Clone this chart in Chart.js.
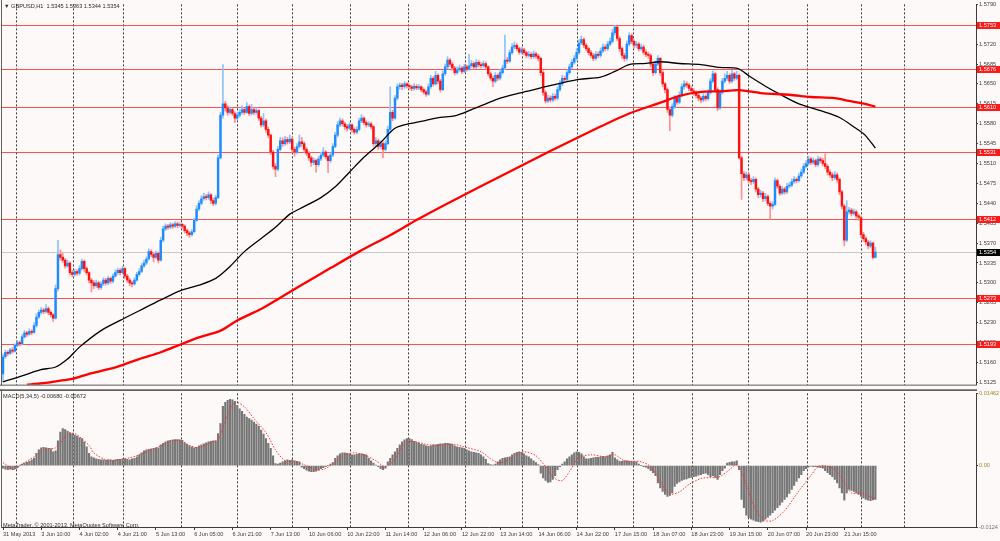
<!DOCTYPE html>
<html>
<head>
<meta charset="utf-8">
<title>GBPUSD,H1</title>
<script src="https://cdn.jsdelivr.net/npm/chart.js"></script>
<style>
  html, body { margin: 0; padding: 0; background: #fcf9f8; }
  #wrap { position: relative; width: 1000px; height: 541px; overflow: hidden; background: #fcf9f8; }
  canvas { position: absolute; left: 0; }
  #priceChart { top: 0; }
  #macdChart { top: 389px; }
  .note { position: absolute; font-family: 'Liberation Sans', Arial, sans-serif; font-size: 5.6px; line-height: 6px; color: #2a2a2a; white-space: nowrap; }
</style>
</head>
<body>
<div id="wrap">
  <canvas id="priceChart" width="1000" height="389"></canvas>
  <canvas id="macdChart" width="1000" height="152"></canvas>
  <div class="note" style="left:4px;top:3px">&#9660; GBPUSD,H1&nbsp; 1.5345 1.5363 1.5344 1.5354</div>
  <div class="note" style="left:3px;top:393px">MACD(5,34,5) -0.00680 -0.00672</div>
  <div class="note" style="left:3px;top:522px">MetaTrader, © 2001-2013, MetaQuotes Software Corp.</div>
</div>
<script>
// time axis: one label every 16 hourly bars
const timeLabels = ['31 May 2013', '3 Jun 10:00', '4 Jun 02:00', '4 Jun 21:00', '5 Jun 13:00', '6 Jun 05:00',
  '6 Jun 21:00', '7 Jun 13:00', '10 Jun 06:00', '10 Jun 22:00', '11 Jun 14:00', '12 Jun 06:00', '12 Jun 22:00',
  '13 Jun 14:00', '14 Jun 06:00', '14 Jun 22:00', '17 Jun 15:00', '18 Jun 07:00', '18 Jun 23:00', '19 Jun 15:00',
  '20 Jun 07:00', '20 Jun 23:00', '21 Jun 15:00'];
const labelStep = 16;
// period separators (bar index)
const daySeparators = [5.5, 29.3, 50.6, 74.5, 98.3, 121.3, 145.2, 169.5, 193.3, 217.2, 240.2, 264, 288.3, 312.1, 336.4, 359, 377];

const priceTicks = [1.5790, 1.5755, 1.5720, 1.5685, 1.5650, 1.5615, 1.5580, 1.5545, 1.5510, 1.5475, 1.5440,
  1.5405, 1.5370, 1.5335, 1.5300, 1.5265, 1.5230, 1.5195, 1.5160, 1.5125];
const levels = [1.5753, 1.5676, 1.5610, 1.5531, 1.5412, 1.5273, 1.5193];
const lastPrice = 1.5354;

// candles, in pips above 1.5000
const firstOpen = 140;
const closes = [
  170,178,176,182,180,190,195,193,205,212, 210,215,213,225,240,248,252,250,255,248,
  244,238,290,350,345,340,330,335,318,315, 320,317,325,338,325,318,305,300,295,300,
  292,298,305,300,308,303,312,318,322,318, 325,312,305,300,298,305,315,320,330,335,
  342,355,350,345,352,340,375,395,400,398, 402,400,404,401,403,400,392,388,385,390,
  410,430,440,448,452,450,455,445,440,450, 520,595,615,608,600,605,598,590,595,600,
  605,600,610,598,605,600,603,590,578,585, 570,560,530,505,500,535,550,545,552,548,
  553,535,530,540,548,545,535,528,520,512, 515,508,518,525,530,522,515,525,540,560,
  578,585,580,575,572,578,570,565,570,585, 590,582,578,580,575,545,550,540,545,535,
  545,570,600,590,625,645,648,645,650,647, 645,642,646,643,645,640,636,632,645,660,
  650,665,655,640,668,680,692,685,678,670, 675,678,672,680,676,682,686,680,688,684,
  682,686,680,668,660,655,665,660,670,678, 692,690,705,715,718,712,706,710,705,700,
  702,698,703,699,695,670,635,620,625,622, 628,625,640,650,660,658,670,680,688,695,
  705,722,728,718,712,705,700,695,702,700, 708,715,712,720,725,740,750,730,712,700,
  695,720,735,725,718,720,712,715,706,702, 700,685,670,685,695,670,650,640,605,595,
  610,625,618,630,645,650,648,642,638,635, 630,625,622,628,624,635,655,668,640,608,
  635,655,660,665,655,668,660,665,520,492, 485,490,480,478,482,465,455,458,448,452,
  440,435,438,480,470,458,465,460,470,472, 478,482,480,488,495,505,510,518,512,515,
  508,518,515,510,505,495,490,485,490,482, 460,435,375,425,428,422,425,418,415,385,
  378,372,365,370,345,354];
const highs = [
  175,182,181,185,186,193,199,198,209,216, 215,219,218,230,246,252,257,255,262,258,
  251,246,296,375,358,352,343,340,337,322, 324,323,330,342,340,328,320,308,304,305,
  303,302,309,308,312,310,316,323,326,325, 329,327,315,308,303,309,319,325,334,340,
  346,360,358,353,356,354,380,400,404,403, 406,405,408,407,406,405,402,395,391,394,
  414,436,445,453,458,456,460,457,449,454, 525,600,684,620,612,610,608,601,600,605,
  612,608,617,613,614,608,608,605,593,598, 588,574,562,533,510,540,556,555,558,556,
  560,556,539,545,560,556,548,538,531,523, 520,518,522,530,538,533,525,529,545,565,
  584,590,588,583,579,582,580,573,575,590, 596,592,585,584,583,577,556,553,550,548,
  550,576,645,604,630,650,652,651,654,652, 650,648,650,649,649,647,643,639,650,665,
  663,672,668,658,673,685,698,695,688,681, 680,683,681,685,683,702,691,689,693,691,
  688,690,689,682,671,664,670,668,675,683, 736,697,710,721,724,721,715,715,713,708,
  707,705,708,706,702,697,673,638,630,629, 633,632,645,656,665,664,675,685,693,700,
  712,728,734,731,721,715,709,704,707,706, 713,720,719,725,731,746,753,752,733,715,
  704,726,740,738,728,725,723,720,718,710, 706,703,688,690,700,697,673,653,643,610,
  615,630,628,636,650,656,654,651,646,642, 638,633,628,633,631,640,660,673,670,643,
  640,660,668,672,668,674,670,672,668,523, 496,495,493,484,487,485,468,463,461,457,
  455,443,443,485,483,473,470,468,475,477, 483,487,485,493,500,510,515,523,521,520,
  518,523,521,519,527,508,499,494,496,493, 485,463,438,445,433,431,430,428,421,418,
  389,381,375,374,372,363];
const lows = [
  126,167,172,174,177,178,188,189,191,203, 206,208,209,211,222,237,245,246,247,244,
  240,232,236,286,340,336,326,327,314,311, 312,313,314,322,320,314,300,284,290,292,
  288,289,295,296,297,299,300,310,315,314, 316,308,301,295,293,296,303,312,318,327,
  332,340,346,337,342,335,338,372,392,394, 395,396,397,397,398,396,388,383,380,382,
  388,408,427,437,445,446,447,440,436,437, 448,518,590,602,595,597,594,582,587,592,
  597,596,598,594,595,596,597,586,574,575, 565,555,526,500,487,497,532,540,542,544,
  545,530,523,527,537,540,530,524,515,505, 508,495,505,515,522,518,494,512,522,538,
  557,575,576,570,567,569,565,561,562,568, 582,578,574,575,571,540,541,535,536,520,
  532,543,566,585,588,622,641,640,642,643, 641,638,639,640,640,636,632,628,630,642,
  646,648,650,636,638,665,677,681,674,666, 667,672,668,670,672,674,679,676,677,680,
  678,679,676,664,656,645,652,656,657,667, 675,686,688,702,711,708,702,703,701,696,
  697,694,695,695,690,665,630,616,617,618, 619,621,622,637,647,653,655,667,677,685,
  692,702,719,714,708,701,696,691,692,696, 697,705,708,709,717,722,736,726,707,695,
  690,692,717,721,713,714,708,709,702,698, 695,680,665,667,682,665,645,634,600,568,
  592,607,614,615,627,641,644,638,634,630, 626,620,617,619,620,621,632,652,636,603,
  605,632,652,656,651,652,656,657,518,447, 480,481,476,473,474,460,450,451,443,444,
  436,412,430,436,466,454,455,456,457,467, 469,475,476,477,485,492,502,507,508,509,
  504,505,511,506,501,490,486,480,482,477, 455,430,365,372,421,418,419,414,410,380,
  373,367,360,362,342,344];

// moving averages (bar index, pips above 1.5000)
const maBlackIdx = [0,7,15.5,22,27,32,41,49,57,66, 74,82,89,95,101,108,114,120,124,133,
  139,145,151,158,164,170,177,183,189,195, 202,208,216,225,233,241,250,256,262,269,
  275,283,292,300,307.5,312.5,319,325,333,342, 350,356.5,360.7,365];
const maBlackVal = [126,135,147,152,166,187,216,234,251,270, 286,296,308,329,355,378,398,421,430,450,
  469,495,521,547,572,580,586,591,594,603, 615,625,634,643,651,658,662,672,684,686,
  689,686,684,679,677,663,646,632,615,603, 591,573,560,537];
const maRedIdx = [10,15.5,19.7,24,29,36,45,51,57,66, 74.5,82,91,98,107.5,116,124,137,149,162,
  173.6,187,208,229,250,262,275,283,292,300, 308,317,329,338,348,354,360.7,365];
const maRedVal = [121,123,125,128,131,140,149,157,166,178, 192,204,216,234,253,274,294,326,355,384,
  412,442,487,532,575,598,617,629,636,637, 639,634,631,627,625,620,615,610];

// MACD(5,34,5) main values per bar, in units of 0.0001
const macd = [
  -5,-7,-8,-7,-8,-6,-4,1,3,5, 7,9,12,15,25,32,36,37,36,35,
  34,28,30,50,68,75,73,70,67,65, 62,60,57,55,48,38,25,18,16,14,
  13,12,12,11,12,12,11,12,13,13, 14,14,13,12,14,15,18,22,26,30,
  32,33,34,35,36,36,42,45,48,50, 51,52,53,53,52,51,46,43,40,38,
  36,37,40,42,44,46,48,49,50,50, 65,85,120,128,132,134,133,130,122,115,
  110,104,98,95,92,88,84,80,72,64, 55,45,35,20,4,3,5,8,10,12,
  11,12,10,9,8,-3,-6,-9,-11,-12, -12,-11,-9,-6,-4,-2,0,3,6,15,
  20,24,26,26,25,24,22,22,23,24, 24,23,22,15,10,5,1,-2,-6,-8,
  -5,8,15,22,28,35,42,48,52,55, 55,53,49,47,45,43,42,40,39,40,
  42,42,43,44,44,45,45,44,43,40, 38,37,36,35,32,30,28,27,26,25,
  22,18,13,4,2,1,3,8,12,15, 16,17,18,22,25,27,28,27,24,20,
  18,14,10,6,2,-15,-25,-30,-34,-33, -28,-20,-8,-2,3,8,14,18,22,26,
  28,27,24,18,14,14,15,16,17,17, 18,19,18,20,22,27,16,12,9,9,
  10,10,9,9,8,8,3,0,-2,-3, -6,-10,-14,-20,-35,-45,-52,-58,-62,-60,
  -55,-42,-36,-33,-30,-28,-27,-25,-24,-22, -21,-19,-18,-16,-15,-18,-22,-20,-24,-28,
  -18,-10,-5,5,7,8,8,10,-8,-68, -85,-100,-105,-108,-110,-112,-113,-114,-112,-108,
  -104,-100,-95,-90,-85,-80,-74,-68,-63,-56, -48,-40,-32,-25,-18,-10,-6,-3,-1,-2,
  -2,-3,-4,-5,-10,-14,-18,-22,-28,-35, -45,-55,-70,-55,-48,-50,-52,-55,-58,-62,
  -65,-68,-70,-71,-69,-68];
// signal line (bar index, units of 0.0001)
const signalIdx = [0,5,7,13,18,22,27,30,36,38, 43,49,53,57,62,66,70,74,78,82,
  87,90,93,97,101,105,110,114,118,122, 126,131,135,139,143,147,151,156,160,164,
  168,172,177,181,185,189,193,200,204,207, 210,214,218,223,227,231,234,237,241,246,
  252,256,260,267,271,275,279,283,287,292, 296,300,304,307,311,313,316,319,322,327,
  333,338,341,344,348,352,355,359,362,365];
const signalVal = [6,-8,0,18,34,36,63,65,41,26, 12,12,16,22,32,40,49,51,41,36,
  47,53,91,128,119,95,67,32,10,8, 2,-8,-6,8,22,26,22,10,-2,14,
  45,49,43,41,43,43,38,28,14,6, 8,20,28,20,-2,-26,-30,-12,16,22,
  18,22,10,8,-2,-32,-57,-53,-38,-26, -24,-22,-8,2,-38,-67,-97,-111,-111,-91,
  -51,-20,-2,0,-8,-34,-55,-55,-61,-67];
const macdTicks = [0.01462, 0, -0.0124];
const macdTickText = ['0.01462', '0.00', '-0.0124'];

const toPrice = v => 1.5 + v / 10000;
const opens = closes.map((c, i) => (i === 0 ? firstOpen : closes[i - 1]));
const up = closes.map((c, i) => c >= opens[i]);
const font = { family: 'Liberation Sans', size: 5.6 };
const axisInk = '#3c3c3c';
const xMin = -0.42, xMax = 407.1;

const separatorAxis = {
  type: 'linear', min: xMin, max: xMax, offset: false, position: 'bottom',
  afterBuildTicks: s => { s.ticks = daySeparators.map(v => ({ value: v })); },
  afterFit: s => { s.height = 0; },
  ticks: { display: false, autoSkip: false },
  grid: { color: '#3a3a3a', lineWidth: 1, drawTicks: false, offset: false },
  border: { display: false, dash: [2, 2] }
};

const levelPlugin = {
  id: 'levels',
  beforeDatasetsDraw(chart) {
    const { ctx, chartArea: a, scales: { y } } = chart;
    ctx.save();
    ctx.lineWidth = 1;
    ctx.strokeStyle = '#c8c8c8';
    let py = Math.round(y.getPixelForValue(lastPrice)) + 0.5;
    ctx.beginPath(); ctx.moveTo(a.left, py); ctx.lineTo(a.right, py); ctx.stroke();
    ctx.strokeStyle = 'rgba(255,50,50,0.85)';
    levels.forEach(v => {
      py = Math.round(y.getPixelForValue(v)) + 0.5;
      ctx.beginPath(); ctx.moveTo(a.left, py); ctx.lineTo(a.right, py); ctx.stroke();
    });
    ctx.restore();
  },
  afterDraw(chart) {
    const { ctx, chartArea: a, scales: { y } } = chart;
    ctx.save();
    ctx.font = '5.6px "Liberation Sans"';
    ctx.textBaseline = 'middle';
    const box = (v, bg) => {
      const py = Math.round(y.getPixelForValue(v));
      ctx.fillStyle = bg;
      ctx.fillRect(a.right + 1, py - 3, 23, 7);
      ctx.fillStyle = '#ffffff';
      ctx.fillText(v.toFixed(4), a.right + 3, py + 0.5);
    };
    levels.forEach(v => box(v, '#ff1a1a'));
    box(lastPrice, '#000000');
    // frame
    ctx.fillStyle = '#606060';
    ctx.fillRect(1, 0, 1, a.bottom + 1);
    ctx.fillRect(0, a.bottom, a.right + 1, 1);
    ctx.restore();
  }
};

const framePlugin = {
  id: 'frame',
  afterDraw(chart) {
    const { ctx, chartArea: a } = chart;
    ctx.save();
    ctx.fillStyle = '#8c8c8c';
    ctx.fillRect(0, 0, a.right + 1, 1);
    ctx.fillStyle = '#606060';
    ctx.fillRect(0, 1, a.right + 1, 1);
    ctx.fillRect(1, 0, 1, a.bottom + 1);
    ctx.restore();
  }
};

new Chart(document.getElementById('priceChart'), {
  type: 'bar',
  data: {
    datasets: [
      {
        type: 'line', label: 'MA slow', order: 0,
        data: maRedIdx.map((x, k) => ({ x, y: toPrice(maRedVal[k]) })),
        borderColor: '#ff0000', borderWidth: 2.3, pointRadius: 0, tension: 0.3, fill: false
      },
      {
        type: 'line', label: 'MA fast', order: 1,
        data: maBlackIdx.map((x, k) => ({ x, y: toPrice(maBlackVal[k]) })),
        borderColor: '#000000', borderWidth: 1.3, pointRadius: 0, tension: 0.3, fill: false
      },
      {
        label: 'body', order: 2, grouped: false, barThickness: 1.8, minBarLength: 1,
        data: closes.map((c, i) => ({ x: i, y: [toPrice(opens[i]), toPrice(c)] })),
        backgroundColor: up.map(u => (u ? '#1e8cff' : '#ff1010'))
      },
      {
        label: 'wick', order: 3, grouped: false, barThickness: 1,
        data: closes.map((c, i) => ({ x: i, y: [toPrice(lows[i]), toPrice(highs[i])] })),
        backgroundColor: up.map(u => (u ? '#8cc4f5' : '#ff9090'))
      }
    ]
  },
  options: {
    responsive: false, animation: false, events: [],
    layout: { padding: { left: 2, top: 3, right: 0, bottom: 1 } },
    plugins: { legend: { display: false }, tooltip: { enabled: false } },
    scales: {
      x: separatorAxis,
      y: {
        position: 'right', min: 1.5121, max: 1.5790, beginAtZero: false,
        afterBuildTicks: s => { s.ticks = priceTicks.map(v => ({ value: v })); },
        afterFit: s => { s.width = 24; },
        ticks: { autoSkip: false, font, color: axisInk, padding: 1, callback: v => v.toFixed(4) },
        grid: { drawOnChartArea: false, drawTicks: true, tickLength: 2, color: axisInk },
        border: { display: true, color: axisInk, width: 1 }
      }
    }
  },
  plugins: [levelPlugin]
});

new Chart(document.getElementById('macdChart'), {
  type: 'bar',
  data: {
    datasets: [
      {
        type: 'line', label: 'Signal', order: 0,
        data: signalIdx.map((x, k) => ({ x, y: signalVal[k] / 10000 })),
        borderColor: '#ff3030', borderWidth: 1, borderDash: [1.5, 1.5], pointRadius: 0, tension: 0.3, fill: false
      },
      {
        label: 'MACD', order: 1, grouped: false, barThickness: 1.5,
        data: macd.map((v, i) => ({ x: i, y: v / 10000 })),
        backgroundColor: '#777777'
      }
    ]
  },
  options: {
    responsive: false, animation: false, events: [],
    layout: { padding: { left: 2, top: 3, right: 0, bottom: 0 } },
    plugins: { legend: { display: false }, tooltip: { enabled: false } },
    scales: {
      x: {
        type: 'linear', min: xMin, max: xMax, offset: false, position: 'bottom',
        afterBuildTicks: s => { s.ticks = timeLabels.map((t, k) => ({ value: k * labelStep })); },
        afterFit: s => { s.height = 14; },
        ticks: {
          autoSkip: false, maxRotation: 0, minRotation: 0, align: 'start', padding: 1,
          font, color: axisInk, callback: (v, idx) => timeLabels[idx]
        },
        grid: { drawOnChartArea: false, drawTicks: true, tickLength: 3, color: axisInk, offset: false },
        border: { display: true, color: axisInk, width: 1 }
      },
      xSep: separatorAxis,
      y: {
        position: 'right', min: -0.0124, max: 0.01462, beginAtZero: false,
        afterBuildTicks: s => { s.ticks = macdTicks.map(v => ({ value: v })); },
        afterFit: s => { s.width = 24; },
        ticks: {
          autoSkip: false, font, padding: 1,
          color: c => (c.index < 2 ? '#a08a2a' : '#707070'),
          callback: (v, idx) => macdTickText[idx]
        },
        grid: { drawOnChartArea: false, drawTicks: true, tickLength: 2, color: axisInk },
        border: { display: true, color: axisInk, width: 1 }
      }
    }
  },
  plugins: [framePlugin]
});
</script>
</body>
</html>
